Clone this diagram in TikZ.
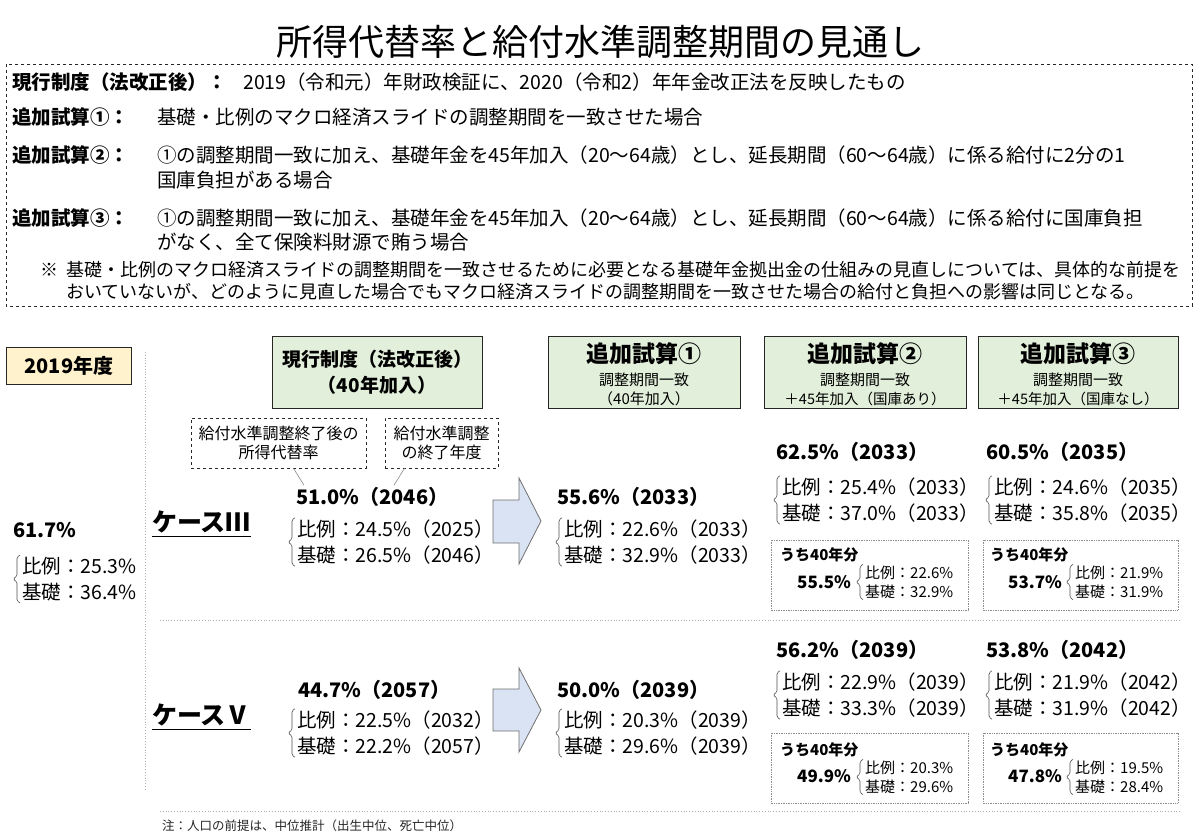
\documentclass[tikz,border=0pt]{standalone}
\usepackage{fontspec}
\setmainfont{Noto Sans CJK JP}
\usetikzlibrary{calc}
\definecolor{hdrgreen}{HTML}{E2EFDA}
\definecolor{yel}{HTML}{FFF2CC}
\definecolor{arrblue}{HTML}{DAE3F3}
\definecolor{dk}{HTML}{262626}
\definecolor{gr}{HTML}{8C8C8C}
\newcommand\fs[2]{\fontsize{#1}{#2}\selectfont}
\newcommand\mybrc[1]{\draw[brcs] ($(#1.north west)+(-2,1)$) -- ($(#1.north west)+(-5,3)$) -- ($(#1.west)+(-5,-3)$) -- ($(#1.west)+(-9,0)$) -- ($(#1.west)+(-5,3)$) -- ($(#1.south west)+(-5,-3)$) -- ($(#1.south west)+(-2,-1)$);}
\begin{document}
\begin{tikzpicture}[x=1pt,y=-1pt,
  every node/.style={inner sep=0pt, text=black},
  ttl/.style={font=\fs{36}{40}},
  blab/.style={anchor=west, font=\bfseries\fs{19.5}{25}},
  btxt/.style={anchor=west, align=left, font=\fs{19.5}{24.5}},
  ntxt/.style={anchor=west, align=left, font=\fs{18}{22}},
  topbox/.style={draw=dk, dashed, line width=0.8pt},
  hdr/.style={draw=dk, fill=hdrgreen, line width=1pt, minimum height=72pt},
  yr/.style={draw=dk, fill=yel, line width=1pt, minimum width=125pt, minimum height=37pt, font=\bfseries\fs{20}{24}},
  lbox/.style={draw=dk, dashed, line width=0.8pt, align=center, font=\fs{16}{19.5}, minimum height=50pt},
  val/.style={anchor=west, font=\bfseries\fs{20}{24}},
  pair/.style={anchor=west, align=left, font=\fs{19.5}{25.5}, inner ysep=3pt},
  casel/.style={anchor=west, font=\bfseries\fs{25}{28}},
  sbox/.style={draw=gr, densely dotted, line width=0.7pt},
  sh/.style={anchor=west, font=\bfseries\fs{15}{17}},
  spct/.style={anchor=west, font=\bfseries\fs{17}{20}},
  spair/.style={anchor=west, align=left, font=\fs{15}{19}, inner ysep=2pt},
  brcs/.style={draw=dk!80, line width=0.6pt, rounded corners=1.5pt},
  blk/.style={draw=gr!80!black, fill=arrblue, line width=0.8pt, line join=miter},
  divl/.style={draw=gr!70, dotted, line width=0.8pt},
  conn/.style={draw=gr, line width=0.6pt}
]
\fill[white] (0,0) rectangle (1200,840);
\useasboundingbox (0,0) rectangle (1200,840);

% title
\node[ttl] (title) at (600,42) {所得代替率と給付水準調整期間の見通し};

% top box
\draw[topbox] (6,64) rectangle (1192,306);
\node[blab] (l1) at (12,82) {現行制度（法改正後）：};
\node[btxt] (t1) at (243,82) {2019（令和元）年財政検証に、2020（令和2）年年金改正法を反映したもの};
\node[blab] (l2) at (12,117) {追加試算①：};
\node[btxt] (t2) at (157,117) {基礎・比例のマクロ経済スライドの調整期間を一致させた場合};
\node[blab] (l3) at (12,155) {追加試算②：};
\node[btxt] (t3) at (157,167.5) {①の調整期間一致に加え、基礎年金を45年加入（20～64歳）とし、延長期間（60～64歳）に係る給付に2分の1\\国庫負担がある場合};
\node[blab] (l4) at (12,218) {追加試算③：};
\node[btxt] (t4) at (157,230) {①の調整期間一致に加え、基礎年金を45年加入（20～64歳）とし、延長期間（60～64歳）に係る給付に国庫負担\\がなく、全て保険料財源で賄う場合};
\node[ntxt] (nm) at (40,270) {※};
\node[ntxt] (nt) at (66,281) {基礎・比例のマクロ経済スライドの調整期間を一致させるために必要となる基礎年金拠出金の仕組みの見直しについては、具体的な前提を\\おいていないが、どのように見直した場合でもマクロ経済スライドの調整期間を一致させた場合の給付と負担への影響は同じとなる。};

% left column
\node[yr] (y19) at (69,366) {2019年度};
\draw[divl] (145,352) -- (145,790);
\node[val] (v0) at (13,530) {61.7\%};
\node[pair] (p0) at (22,579) {比例：25.3\%\\基礎：36.4\%};
\mybrc{p0}

% headers
\node[hdr, minimum width=210pt, align=center, font=\bfseries\fs{19}{26}] (hA) at (377,372) {現行制度（法改正後）\\（40年加入）};
\node[hdr, minimum width=192pt] (hB) at (644,372) {};
\node[font=\bfseries\fs{23}{26}] (hB1) at (644,354) {追加試算①};
\node[font=\fs{15}{18}] (hB2) at (644,380) {調整期間一致};
\node[font=\fs{15}{18}] (hB3) at (644,399) {（40年加入）};
\node[hdr, minimum width=202pt] (hC) at (865,372) {};
\node[font=\bfseries\fs{23}{26}] (hC1) at (865,354) {追加試算②};
\node[font=\fs{15}{18}] (hC2) at (865,380) {調整期間一致};
\node[font=\fs{14.5}{18}] (hC3) at (865,399) {＋45年加入（国庫あり）};
\node[hdr, minimum width=200pt] (hD) at (1078,372) {};
\node[font=\bfseries\fs{23}{26}] (hD1) at (1078,354) {追加試算③};
\node[font=\fs{15}{18}] (hD2) at (1078,380) {調整期間一致};
\node[font=\fs{14.5}{18}] (hD3) at (1078,399) {＋45年加入（国庫なし）};

% label boxes
\node[lbox, minimum width=175pt] (lb1) at (278.5,443) {給付水準調整終了後の\\所得代替率};
\node[lbox, minimum width=113pt] (lb2) at (441.5,443) {給付水準調整\\の終了年度};

% ===== Case III =====
\node[casel] (c3) at (152,522) {ケースⅢ};
\draw[line width=1.5pt] ($(c3.south west)+(0,3)$) -- ($(c3.south east)+(0,3)$);
\node[val] (v3a) at (296,497) {51.0\%（2046）};
\draw[conn] ($(lb1.south)+(15,0)$) -- ($(v3a.north west)+(8,-2)$);
\draw[conn] ($(lb2.south)+(-37,0)$) -- ($(v3a.north west)+(98,-2)$);
\node[pair] (p3a) at (297,542) {比例：24.5\%（2025）\\基礎：26.5\%（2046）};
\mybrc{p3a}
\draw[blk] (493,500) -- (519,500) -- (519,478) -- (541,521) -- (519,564) -- (519,543) -- (493,543) -- cycle;
\node[val] (v3b) at (557,497) {55.6\%（2033）};
\node[pair] (p3b) at (564,542) {比例：22.6\%（2033）\\基礎：32.9\%（2033）};
\mybrc{p3b}
\node[val] (v3c) at (776,452) {62.5\%（2033）};
\node[pair] (p3c) at (782,500) {比例：25.4\%（2033）\\基礎：37.0\%（2033）};
\mybrc{p3c}
\node[val] (v3d) at (986,452) {60.5\%（2035）};
\node[pair] (p3d) at (994,500) {比例：24.6\%（2035）\\基礎：35.8\%（2035）};
\mybrc{p3d}
\draw[sbox] (771,540) rectangle (968,610);
\node[sh] (s3c) at (780,555) {うち40年分};
\node[spct] (q3c) at (797,582) {55.5\%};
\node[spair] (r3c) at (865,582) {比例：22.6\%\\基礎：32.9\%};
\mybrc{r3c}
\draw[sbox] (983,540) rectangle (1178,610);
\node[sh] (s3d) at (990,555) {うち40年分};
\node[spct] (q3d) at (1008,582) {53.7\%};
\node[spair] (r3d) at (1075,582) {比例：21.9\%\\基礎：31.9\%};
\mybrc{r3d}

\draw[divl] (160,620) -- (1180,620);

% ===== Case V =====
\node[casel] (c5) at (152,715) {ケースⅤ};
\draw[line width=1.5pt] ($(c5.south west)+(0,3)$) -- ($(c5.south east)+(0,3)$);
\node[val] (v5a) at (298,690) {44.7\%（2057）};
\node[pair] (p5a) at (297,733) {比例：22.5\%（2032）\\基礎：22.2\%（2057）};
\mybrc{p5a}
\draw[blk] (493,689) -- (519,689) -- (519,668) -- (541,710) -- (519,752) -- (519,731) -- (493,731) -- cycle;
\node[val] (v5b) at (557,690) {50.0\%（2039）};
\node[pair] (p5b) at (564,733) {比例：20.3\%（2039）\\基礎：29.6\%（2039）};
\mybrc{p5b}
\node[val] (v5c) at (776,650) {56.2\%（2039）};
\node[pair] (p5c) at (782,695) {比例：22.9\%（2039）\\基礎：33.3\%（2039）};
\mybrc{p5c}
\node[val] (v5d) at (986,650) {53.8\%（2042）};
\node[pair] (p5d) at (994,695) {比例：21.9\%（2042）\\基礎：31.9\%（2042）};
\mybrc{p5d}
\draw[sbox] (771,733) rectangle (968,803);
\node[sh] (s5c) at (780,750) {うち40年分};
\node[spct] (q5c) at (797,776) {49.9\%};
\node[spair] (r5c) at (865,777) {比例：20.3\%\\基礎：29.6\%};
\mybrc{r5c}
\draw[sbox] (983,733) rectangle (1178,803);
\node[sh] (s5d) at (990,750) {うち40年分};
\node[spct] (q5d) at (1008,776) {47.8\%};
\node[spair] (r5d) at (1075,777) {比例：19.5\%\\基礎：28.4\%};
\mybrc{r5d}

\draw[divl] (160,811) -- (1180,811);
\node[anchor=west, font=\fs{12.5}{14}, text=dk] (foot) at (162,826) {注：人口の前提は、中位推計（出生中位、死亡中位）};
\end{tikzpicture}
\end{document}
